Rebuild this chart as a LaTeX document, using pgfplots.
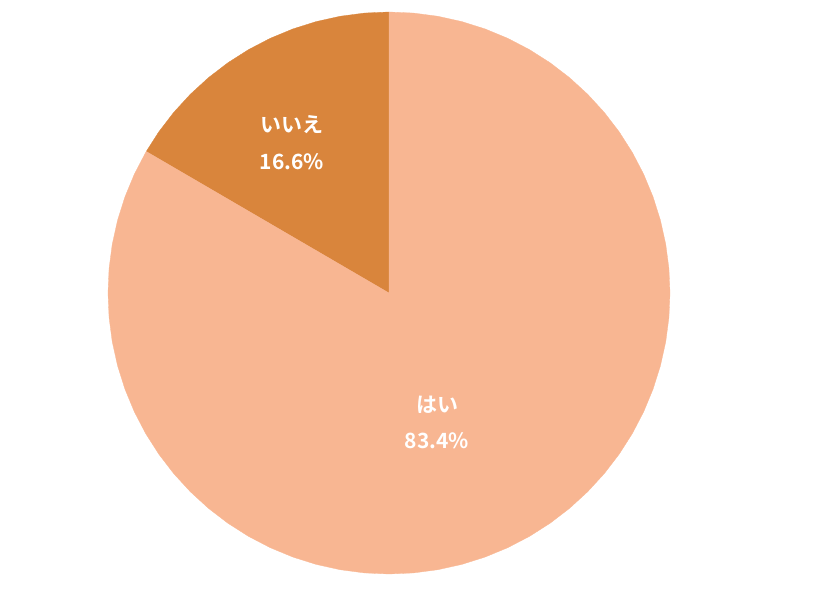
\documentclass[border=0pt]{standalone}
\usepackage{fontspec}
\setmainfont{Noto Sans CJK JP}[BoldFont={Noto Sans CJK JP Bold}]
\usepackage{pgfplots}
\pgfplotsset{compat=1.18}
\definecolor{lightslice}{HTML}{F8B692}
\definecolor{darkslice}{HTML}{D9853C}
\begin{document}
\begin{tikzpicture}
\begin{axis}[
  width=820pt, height=610pt, scale only axis,
  hide axis,
  xmin=-389, xmax=431, ymin=-317, ymax=293,
  clip=false,
]
\path (rel axis cs:0,0) (rel axis cs:1,1);
% いいえ 16.6% : from 90 deg counterclockwise 59.76 deg
\addplot[data cs=polar, fill=darkslice, draw=darkslice, line width=0.3pt] coordinates {
(0,0) (90,281) (95,281) (100,281) (105,281) (110,281) (115,281) (120,281)
(125,281) (130,281) (135,281) (140,281) (145,281) (149.76,281)
} -- cycle;
% はい 83.4% : remaining 300.24 deg
\addplot[data cs=polar, fill=lightslice, draw=lightslice, line width=0.3pt] coordinates {
(0,0) (149.76,281) (150,281) (155,281) (160,281) (165,281) (170,281) (175,281)
(180,281) (185,281) (190,281) (195,281) (200,281) (205,281) (210,281) (215,281)
(220,281) (225,281) (230,281) (235,281) (240,281) (245,281) (250,281) (255,281)
(260,281) (265,281) (270,281) (275,281) (280,281) (285,281) (290,281) (295,281)
(300,281) (305,281) (310,281) (315,281) (320,281) (325,281) (330,281) (335,281)
(340,281) (345,281) (350,281) (355,281) (360,281) (365,281) (370,281) (375,281)
(380,281) (385,281) (390,281) (395,281) (400,281) (405,281) (410,281) (415,281)
(420,281) (425,281) (430,281) (435,281) (440,281) (445,281) (450,281)
} -- cycle;
\node[text=white, font=\bfseries\fontsize{21}{25}\selectfont, align=center] at (axis cs:-97,168) {いいえ};
\node[text=white, font=\bfseries\fontsize{21}{25}\selectfont, align=center] at (axis cs:-97,131) {16.6\%};
\node[text=white, font=\bfseries\fontsize{21}{25}\selectfont, align=center] at (axis cs:48,-112) {はい};
\node[text=white, font=\bfseries\fontsize{21}{25}\selectfont, align=center] at (axis cs:48,-148) {83.4\%};
\end{axis}
\end{tikzpicture}
\end{document}
